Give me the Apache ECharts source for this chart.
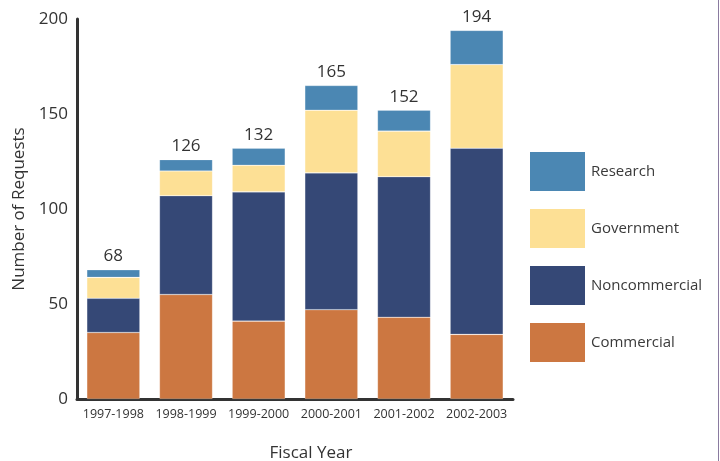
<!DOCTYPE html>
<html>
<head>
<meta charset="utf-8">
<script src="https://cdn.jsdelivr.net/npm/echarts@6/dist/echarts.min.js"></script>
<style>
html,body{margin:0;padding:0;background:#fff;}
#chart{width:720px;height:461px;}
</style>
</head>
<body>
<div id="chart"></div>
<script>
const categories = ['1997-1998','1998-1999','1999-2000','2000-2001','2001-2002','2002-2003'];
const commercial = [35, 55, 41, 47, 43, 34];
const noncommercial = [18, 52, 68, 72, 74, 98];
const government = [11, 13, 14, 33, 24, 44];
const research = [4, 6, 9, 13, 11, 18];
const yTicks = [0, 50, 100, 150, 200];

const totals = categories.map((_, i) => commercial[i] + noncommercial[i] + government[i] + research[i]);

const FONT = '"Open Sans", "Noto Sans", sans-serif';
const colors = {
  Commercial: '#cc7741',
  Noncommercial: '#354876',
  Government: '#fde095',
  Research: '#4b87b3'
};

const chart = echarts.init(document.getElementById('chart'));
function mk(name, data, extra) {
  return Object.assign({
    name: name,
    type: 'bar',
    stack: 'total',
    data: data,
    barCategoryGap: '27%',
    itemStyle: { color: colors[name], borderColor: 'rgba(255,255,255,0.35)', borderWidth: 0.6 }
  }, extra || {});
}
chart.setOption({
  animation: false,
  textStyle: { fontFamily: FONT },
  grid: { left: 77, right: 207, top: 19, bottom: 62, outerBoundsMode: 'none', containLabel: false },
  legend: {
    orient: 'vertical',
    left: 530,
    top: 152,
    padding: 0,
    itemWidth: 55,
    itemHeight: 39,
    itemGap: 18,
    icon: 'rect',
    itemStyle: { borderWidth: 0 },
    data: ['Research', 'Government', 'Noncommercial', 'Commercial'],
    textStyle: { fontFamily: FONT, fontSize: 15, color: '#3a3a3a', padding: [0, 0, 0, 1] }
  },
  xAxis: {
    type: 'category',
    data: categories,
    name: 'Fiscal Year',
    nameLocation: 'middle',
    nameGap: 46,
    nameTextStyle: { fontFamily: FONT, fontSize: 17, color: '#333', padding: [0, 0, 0, 32] },
    axisLine: { lineStyle: { color: '#333', width: 3 } },
    axisTick: { show: false },
    axisLabel: { fontFamily: FONT, fontSize: 12.5, color: '#333', margin: 9, interval: 0 }
  },
  yAxis: {
    type: 'value',
    min: 0,
    max: 200,
    interval: 50,
    name: 'Number of Requests',
    nameLocation: 'middle',
    nameGap: 43,
    nameTextStyle: { fontFamily: FONT, fontSize: 17, color: '#333' },
    axisLine: { show: true, lineStyle: { color: '#333', width: 3 } },
    axisTick: { show: false },
    splitLine: { show: false },
    axisLabel: {
      fontFamily: FONT, fontSize: 17, color: '#333', margin: 9,
      formatter: v => yTicks.indexOf(v) >= 0 ? String(v) : ''
    }
  },
  graphic: [{
    type: 'line',
    shape: { x1: 718.5, y1: 0, x2: 718.5, y2: 461 },
    style: { stroke: '#8a7ba0', lineWidth: 1 }
  }],
  series: [
    mk('Commercial', commercial),
    mk('Noncommercial', noncommercial),
    mk('Government', government),
    mk('Research', research, {
      label: {
        show: true,
        position: 'top',
        distance: 5,
        fontFamily: FONT,
        fontSize: 17,
        color: '#333',
        formatter: p => String(totals[p.dataIndex])
      }
    })
  ]
});
</script>
</body>
</html>
